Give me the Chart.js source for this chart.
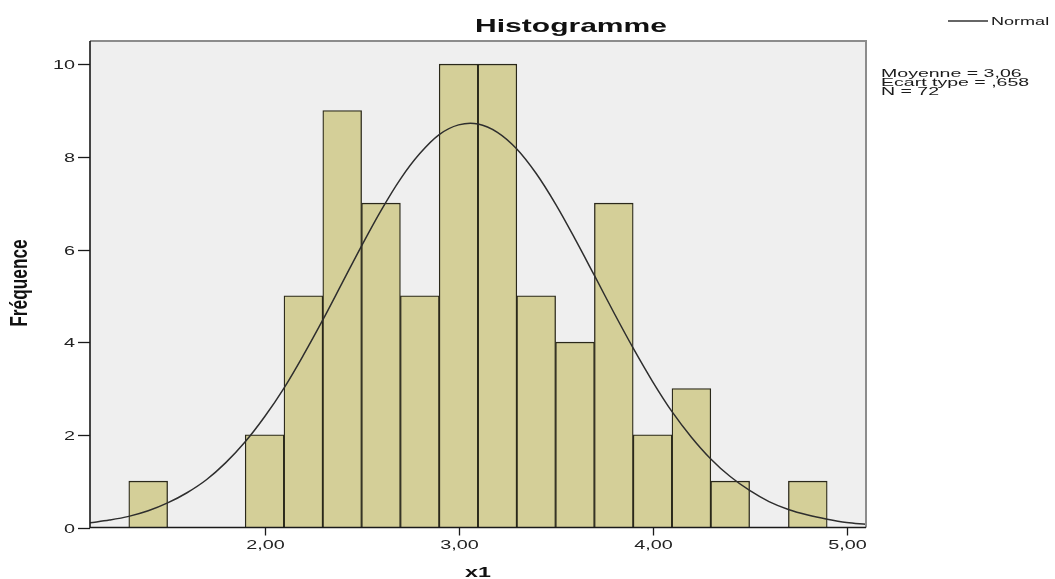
<!DOCTYPE html>
<html>
<head>
<meta charset="utf-8">
<script src="https://cdn.jsdelivr.net/npm/chart.js@4/dist/chart.umd.min.js"></script>
<style>
  html, body { margin: 0; padding: 0; background: #ffffff; }
  #wrap { width: 1055px; height: 579px; }
</style>
</head>
<body>
<div id="wrap"><canvas id="c" width="1055" height="579"></canvas></div>
<script>
// ---- Data ----
const binCenters  = [1.4, 2.0, 2.2, 2.4, 2.6, 2.8, 3.0, 3.2, 3.4, 3.6, 3.8, 4.0, 4.2, 4.4, 4.8];
const frequencies = [1,   2,   5,   9,   7,   5,   10,  10,  5,   4,   7,   2,   3,   1,   1];

const curveX = [1.1,1.2,1.3,1.4,1.5,1.6,1.7,1.8,1.9,2.0,2.1,2.2,2.3,2.4,2.5,2.6,2.7,2.8,2.9,3.0,
                3.1,3.2,3.3,3.4,3.5,3.6,3.7,3.8,3.9,4.0,4.1,4.2,4.3,4.4,4.5,4.6,4.7,4.8,4.9,5.0,5.1];
const curveY = [0.10,0.16,0.24,0.36,0.53,0.75,1.03,1.40,1.85,2.39,3.01,3.72,4.48,5.28,6.08,6.84,7.52,8.07,8.48,8.69,
                8.71,8.53,8.17,7.64,6.98,6.23,5.44,4.64,3.87,3.15,2.50,1.95,1.48,1.10,0.80,0.56,0.39,0.27,0.18,0.11,0.07];

const xTickValues = [2, 3, 4, 5];
const xTickLabels = ['2,00', '3,00', '4,00', '5,00'];
const yTickValues = [0, 2, 4, 6, 8, 10];
const yTickLabels = ['0', '2', '4', '6', '8', '10'];

const chartTitle = 'Histogramme';
const xAxisTitle = 'x1';
const yAxisTitle = 'Fréquence';
const legendLabel = 'Normal';
const statsLines = ['Moyenne = 3,06', 'Ecart type = ,658', 'N = 72'];

// ---- Helpers ----
const FONT = '"Liberation Sans", Arial, sans-serif';
const STRETCH = 1.65;

function stretchedText(ctx, txt, x, y, font, sx, align, color, baseline) {
  ctx.save();
  ctx.font = font;
  ctx.fillStyle = color || '#222';
  ctx.textBaseline = baseline || 'alphabetic';
  ctx.translate(x, y);
  ctx.scale(sx, 1);
  ctx.textAlign = align || 'left';
  ctx.fillText(txt, 0, 0);
  ctx.restore();
}

const spssPlugin = {
  id: 'spss',
  beforeDraw(chart) {
    const { ctx, chartArea: a } = chart;
    ctx.save();
    ctx.fillStyle = '#efefef';
    ctx.fillRect(a.left, a.top, a.right - a.left, a.bottom - a.top);
    ctx.restore();
  },
  afterDraw(chart) {
    const { ctx, chartArea: a } = chart;
    const xs = chart.scales.x, ys = chart.scales.y;

    // plot frame top & right
    ctx.save();
    ctx.strokeStyle = '#8c8c8c';
    ctx.lineWidth = 2;
    ctx.beginPath();
    ctx.moveTo(a.left, a.top);
    ctx.lineTo(a.right, a.top);
    ctx.lineTo(a.right, a.bottom);
    ctx.stroke();

    // axis lines
    ctx.strokeStyle = '#1a1a1a';
    ctx.lineWidth = 1.6;
    ctx.beginPath();
    ctx.moveTo(a.left, a.top);
    ctx.lineTo(a.left, a.bottom);
    ctx.lineTo(a.right, a.bottom);
    ctx.stroke();

    // y ticks
    ctx.lineWidth = 1.3;
    yTickValues.forEach((v, i) => {
      const py = Math.round(ys.getPixelForValue(v)) + 0.5;
      ctx.beginPath();
      ctx.moveTo(a.left - 12, py);
      ctx.lineTo(a.left, py);
      ctx.stroke();
      stretchedText(ctx, yTickLabels[i], a.left - 15, py + 4.5, '12px ' + FONT, STRETCH, 'right', '#222');
    });
    // x ticks
    xTickValues.forEach((v, i) => {
      const px = Math.round(xs.getPixelForValue(v)) + 0.5;
      ctx.beginPath();
      ctx.moveTo(px, a.bottom);
      ctx.lineTo(px, a.bottom + 8);
      ctx.stroke();
      stretchedText(ctx, xTickLabels[i], px, a.bottom + 21, '12px ' + FONT, STRETCH, 'center', '#222');
    });
    ctx.restore();

    // title
    stretchedText(ctx, chartTitle, 571, 31.5, 'bold 19px ' + FONT, 1.58, 'center', '#111');
    // x axis title
    stretchedText(ctx, xAxisTitle, (a.left + a.right) / 2, 577, 'bold 15px ' + FONT, 1.55, 'center', '#111');
    // y axis title (rotated, condensed)
    ctx.save();
    ctx.translate(21, 283);
    ctx.rotate(-Math.PI / 2);
    ctx.scale(1.08, 1.45);
    ctx.font = 'bold 16px ' + FONT;
    ctx.fillStyle = '#111';
    ctx.textAlign = 'center';
    ctx.textBaseline = 'middle';
    ctx.fillText(yAxisTitle, 0, 0);
    ctx.restore();

    // legend
    ctx.save();
    ctx.strokeStyle = '#333';
    ctx.lineWidth = 1.3;
    ctx.beginPath();
    ctx.moveTo(948, 21);
    ctx.lineTo(988, 21);
    ctx.stroke();
    ctx.restore();
    stretchedText(ctx, legendLabel, 991, 25, '11px ' + FONT, 1.64, 'left', '#1a1a1a');

    // stats
    statsLines.forEach((t, i) => {
      stretchedText(ctx, t, 881, 77.3 + i * 8.85, '10.5px ' + FONT, 1.86, 'left', '#1a1a1a');
    });
  }
};

const barData = binCenters.map((x, i) => ({ x: x, y: frequencies[i] }));
const curveData = curveX.map((x, i) => ({ x: x, y: curveY[i] }));

new Chart(document.getElementById('c'), {
  type: 'bar',
  data: {
    datasets: [
      {
        type: 'line',
        label: legendLabel,
        data: curveData,
        borderColor: '#2e2e2e',
        borderWidth: 1.5,
        pointRadius: 0,
        tension: 0.35,
        fill: false,
        order: 0
      },
      {
        type: 'bar',
        label: 'x1',
        data: barData,
        backgroundColor: '#d4cf98',
        borderColor: '#2a281a',
        borderWidth: 1.3,
        barPercentage: 1,
        categoryPercentage: 1,
        order: 1
      }
    ]
  },
  options: {
    responsive: false,
    devicePixelRatio: 1,
    animation: false,
    layout: { padding: { left: 0, top: 41, right: 189, bottom: 0 } },
    plugins: {
      legend: { display: false },
      title: { display: false },
      tooltip: { enabled: false }
    },
    scales: {
      x: {
        type: 'linear',
        min: 1.1,
        max: 5.1,
        offset: false,
        grid: { display: false },
        border: { display: false },
        ticks: { display: false },
        afterFit(scale) { scale.height = 51.5; }
      },
      y: {
        min: 0,
        max: 10.5,
        grid: { display: false },
        border: { display: false },
        ticks: { display: false, stepSize: 2 },
        afterFit(scale) { scale.width = 90; }
      }
    }
  },
  plugins: [spssPlugin]
});
</script>
</body>
</html>
